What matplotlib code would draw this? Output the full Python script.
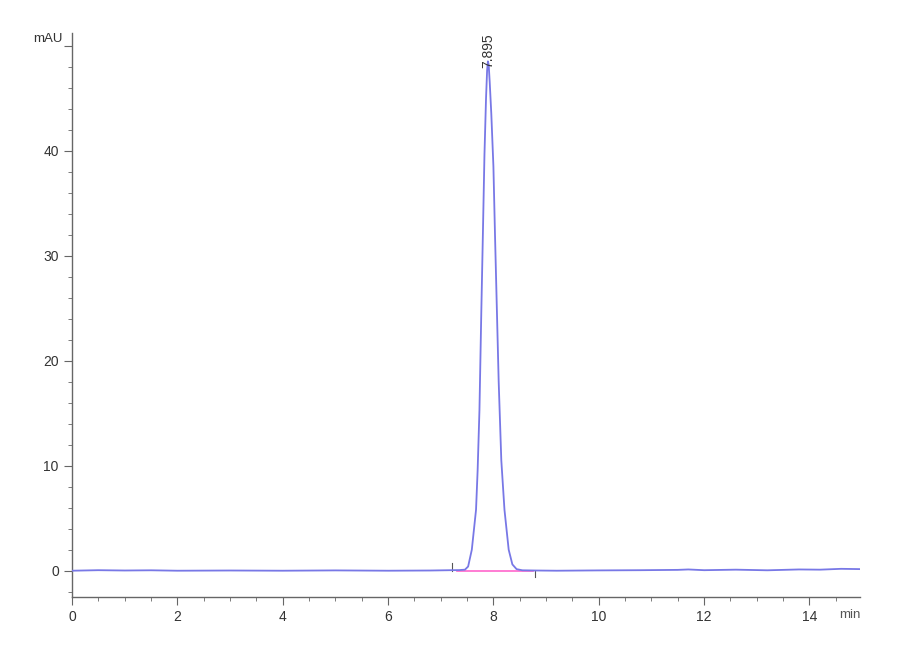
import matplotlib
matplotlib.use('Agg')
import matplotlib.pyplot as plt
from matplotlib.ticker import MultipleLocator

plt.rcParams['font.family'] = ['Liberation Sans', 'DejaVu Sans']

# chromatogram trace (min, mAU)
time_min = [0.0, 0.5, 1.0, 1.5, 2.0, 3.0, 4.0, 5.0, 6.0, 6.8, 7.2, 7.35,
            7.46, 7.52, 7.59, 7.67, 7.70, 7.735, 7.77, 7.80, 7.83, 7.86,
            7.88, 7.895, 7.91, 7.93, 7.96, 8.00, 8.03, 8.06, 8.10, 8.15,
            8.21, 8.29, 8.36, 8.44, 8.55, 8.8, 9.2, 10.0, 10.8, 11.5,
            11.7, 12.0, 12.6, 13.2, 13.8, 14.2, 14.6, 15.0]
signal = [0.0, 0.05, 0.02, 0.04, 0.0, 0.02, 0.0, 0.03, 0.0, 0.02, 0.05, 0.06,
          0.1, 0.4, 2.0, 5.8, 9.5, 15.3, 24.6, 32.0, 39.6, 45.0,
          47.6, 48.5, 48.2, 46.5, 43.5, 38.5, 32.0, 26.0, 18.0, 10.5,
          5.8, 2.0, 0.6, 0.15, 0.04, 0.02, 0.0, 0.03, 0.05, 0.08,
          0.12, 0.05, 0.1, 0.04, 0.12, 0.1, 0.18, 0.15]

peak_rt = 7.895
peak_label = '7.895'
base_start, base_end = 7.3, 8.75
marker_start, marker_end = 7.22, 8.79

fig = plt.figure(figsize=(9, 6.6), dpi=100)
ax = fig.add_axes([0.08, 0.0955, 0.8756, 0.8545])

ax.plot(time_min, signal, color='#7878e6', lw=1.3, zorder=3)
ax.plot([base_start, base_end], [0, 0], color='#ff66cc', lw=1.2, zorder=2)
ax.plot([marker_start, marker_start], [0, 0.7], color='#555555', lw=0.8)
ax.plot([marker_end, marker_end], [0, -0.6], color='#555555', lw=0.8)

ax.text(peak_rt, 47.9, peak_label, rotation=90, ha='center', va='bottom',
        fontsize=10, color='#333333')

ax.set_xlim(0, 14.96)
ax.set_ylim(-2.5, 51.2)

for s in ['top', 'right']:
    ax.spines[s].set_visible(False)
for s in ['left', 'bottom']:
    ax.spines[s].set_color('#666666')
    ax.spines[s].set_linewidth(1.0)

ax.xaxis.set_major_locator(MultipleLocator(2))
ax.xaxis.set_minor_locator(MultipleLocator(0.5))
ax.yaxis.set_major_locator(MultipleLocator(10))
ax.yaxis.set_minor_locator(MultipleLocator(2))
ax.tick_params(which='major', length=6, color='#666666', labelsize=10,
               labelcolor='#333333')
ax.tick_params(which='minor', length=3, color='#666666')

ax.set_xticks([0, 2, 4, 6, 8, 10, 12, 14])
ax.set_yticks([0, 10, 20, 30, 40, 50])
ax.set_yticklabels(['0', '10', '20', '30', '40', ''])

ax.text(-0.18, 50.6, 'mAU', ha='right', va='center', fontsize=9.5,
        color='#333333')
ax.text(14.96, -4.25, 'min', ha='right', va='center', fontsize=9.5,
        color='#555555', clip_on=False)

fig.savefig('out.png', dpi=100, facecolor='white')
